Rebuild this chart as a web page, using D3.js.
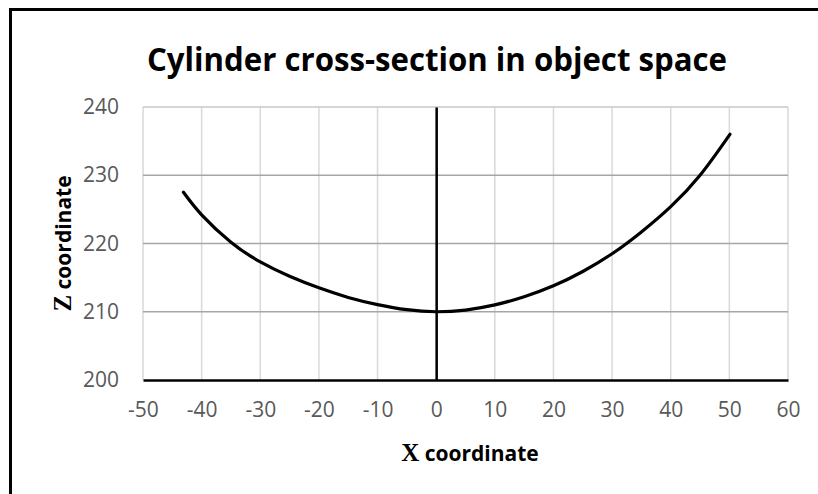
<!DOCTYPE html>
<html>
<head>
<meta charset="utf-8">
<script src="https://cdn.jsdelivr.net/npm/d3@7"></script>
<style>
  html, body { margin: 0; padding: 0; background: #fff; overflow: hidden; }
  svg { display: block; }
</style>
</head>
<body>
<div class="chart"></div>
<script>
// cross-section points
var xValues = [-43.1, -40, -35, -30, -25, -20, -15, -10, -5, 0, 5, 10, 15, 20, 25, 30, 35, 40, 45, 50.1];
var zValues = [227.5, 224.2, 220.2, 217.3, 215.2, 213.5, 212.1, 211.05, 210.3, 210.0, 210.25, 211.0, 212.2, 213.8, 215.9, 218.5, 221.7, 225.4, 230.0, 236.0];
var xTicks = [-50, -40, -30, -20, -10, 0, 10, 20, 30, 40, 50, 60];
var zTicks = [200, 210, 220, 230, 240];

var chartTitle = "Cylinder cross-section in object space";

var width = 818, height = 494;
var margin = {top: 107, right: 30, bottom: 114, left: 143};

var svg = d3.select(".chart")
  .append("svg")
    .attr("width", width)
    .attr("height", height);

// outer frame: only the top and left edges show in the crop
svg.append("line")
  .attr("x1", 9).attr("x2", width)
  .attr("y1", 9.5).attr("y2", 9.5)
  .attr("stroke", "#000").attr("stroke-width", 3);
svg.append("line")
  .attr("x1", 10.5).attr("x2", 10.5)
  .attr("y1", 8).attr("y2", height)
  .attr("stroke", "#000").attr("stroke-width", 3);

var x = d3.scaleLinear()
  .domain([-50, 60])
  .range([margin.left, width - margin.right]);

var z = d3.scaleLinear()
  .domain([200, 240])
  .range([height - margin.bottom, margin.top]);

// vertical gridlines
svg.append("g")
  .selectAll("line")
  .data(xTicks)
  .enter().append("line")
    .attr("x1", function(d) { return x(d); })
    .attr("x2", function(d) { return x(d); })
    .attr("y1", z(240))
    .attr("y2", z(200))
    .attr("stroke", "#d9d9d9")
    .attr("stroke-width", 1.5);

// horizontal gridlines
svg.append("g")
  .selectAll("line")
  .data(zTicks.slice(1))
  .enter().append("line")
    .attr("x1", x(-50))
    .attr("x2", x(60))
    .attr("y1", function(d) { return z(d); })
    .attr("y2", function(d) { return z(d); })
    .attr("stroke", function(d) { return d == 240 ? "#c8c8c8" : "#a6a6a6"; })
    .attr("stroke-width", 1.5);

// axes through the origin
var fmt = function(d) { return String(d); };
var xAxis = d3.axisBottom(x).tickValues(xTicks).tickFormat(fmt).tickSize(0).tickPadding(22);
var zAxis = d3.axisLeft(z).tickValues(zTicks).tickFormat(fmt).tickSize(0).tickPadding(24);

var gx = svg.append("g")
  .attr("transform", "translate(0," + z(200) + ")")
  .call(xAxis);
gx.select(".domain").attr("stroke", "#000").attr("stroke-width", 2.5);

var gz = svg.append("g")
  .attr("transform", "translate(" + x(0) + ",0)")
  .call(zAxis);
gz.select(".domain").attr("stroke", "#000").attr("stroke-width", 2.5);
// z tick labels sit at the left edge of the plot, not at x = 0
gz.selectAll(".tick text")
  .attr("x", x(-50) - x(0) - 24);

svg.selectAll(".tick text")
  .attr("fill", "#595959")
  .style("font-family", "'Open Sans', sans-serif")
  .style("font-size", "21px");
gx.selectAll(".tick text").attr("dy", "0.71em");

// the curve
var pts = xValues.map(function(d, i) { return [d, zValues[i]]; });
var line = d3.line()
  .x(function(d) { return x(d[0]); })
  .y(function(d) { return z(d[1]); })
  .curve(d3.curveNatural);

svg.append("path")
  .datum(pts)
  .attr("d", line)
  .attr("fill", "none")
  .attr("stroke", "#000")
  .attr("stroke-width", 3.2)
  .attr("stroke-linecap", "round");

// title
svg.append("text")
  .attr("x", 437)
  .attr("y", 71)
  .attr("text-anchor", "middle")
  .attr("textLength", 580)
  .attr("lengthAdjust", "spacingAndGlyphs")
  .style("font-family", "'Open Sans', sans-serif")
  .style("font-weight", "bold")
  .style("font-size", "33px")
  .attr("fill", "#000")
  .text(chartTitle);

// axis titles: letter in serif, word in sans
var xt = svg.append("text")
  .attr("x", 470)
  .attr("y", 461)
  .attr("text-anchor", "middle")
  .style("font-weight", "bold")
  .attr("fill", "#000");
xt.append("tspan").style("font-family", "'Liberation Serif', serif").style("font-size", "25px").text("X");
xt.append("tspan").style("font-family", "'Open Sans', sans-serif").style("font-size", "21px").text(" coordinate");

var zt = svg.append("text")
  .attr("transform", "translate(71," + ((z(200) + z(240)) / 2) + ") rotate(-90)")
  .attr("text-anchor", "middle")
  .style("font-weight", "bold")
  .attr("fill", "#000");
zt.append("tspan").style("font-family", "'Liberation Serif', serif").style("font-size", "25px").text("Z");
zt.append("tspan").style("font-family", "'Open Sans', sans-serif").style("font-size", "21px").text(" coordinate");
</script>
</body>
</html>
